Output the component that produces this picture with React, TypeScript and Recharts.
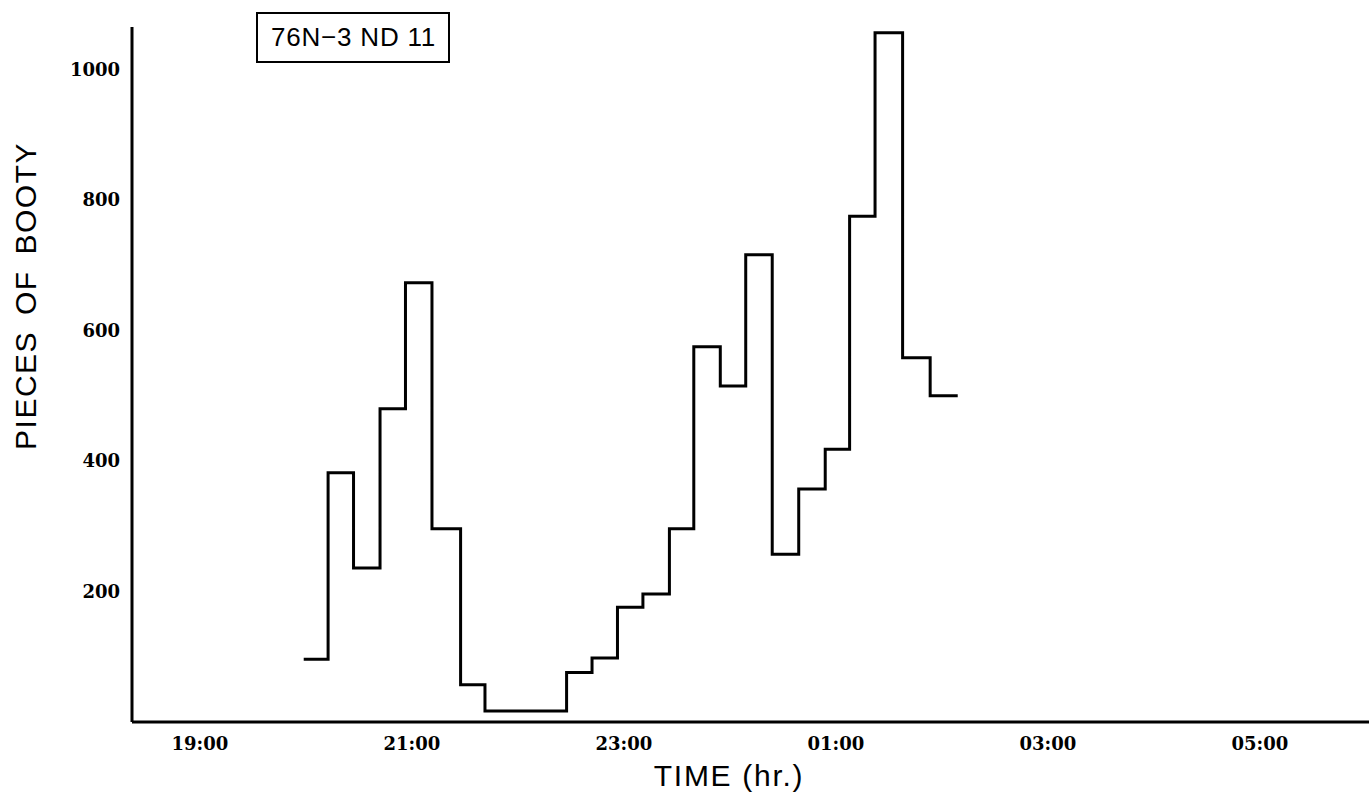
import { LineChart, Line, XAxis, YAxis } from "recharts";

// step edges, decimal hours (24+ = after midnight)
const stepTimes = [
  19.98, 20.21, 20.45, 20.7, 20.94, 21.19, 21.46, 21.69, 22.46, 22.7, 22.94, 23.18,
  23.43, 23.66, 23.91, 24.15, 24.4, 24.65, 24.9, 25.13, 25.37, 25.63, 25.89, 26.15,
];
// pieces of booty in each interval
const booty = [
  96, 382, 236, 480, 673, 296, 57, 17, 76, 98, 176, 196, 296, 575, 515, 716, 257, 357,
  418, 775, 1056, 558, 500,
];
const hourTicks = [19, 21, 23, 25, 27, 29];
const countTicks = [200, 400, 600, 800, 1000];

const chartData = stepTimes.map((t, i) => ({
  t,
  v: i < booty.length ? booty[i] : booty[booty.length - 1],
}));

const fmtHour = (h: number) => String(h % 24).padStart(2, "0") + ":00";

const tickFont = { fontFamily: "DejaVu Serif", fontWeight: 700, fontSize: 18, fill: "#000" };

export default function App() {
  return (
    <div style={{ position: "absolute", left: 0, top: 0, width: 1369, height: 796, background: "#fff" }}>
      <LineChart width={1369} height={796} data={chartData} margin={{ top: 27, right: 0, bottom: 0, left: 0 }}>
        <XAxis
          type="number"
          dataKey="t"
          domain={[18.36, 30.03]}
          ticks={hourTicks}
          tickFormatter={fmtHour}
          allowDataOverflow
          height={74}
          tickLine={false}
          tickMargin={9}
          axisLine={{ stroke: "#000", strokeWidth: 3 }}
          tick={tickFont}
        />
        <YAxis
          type="number"
          domain={[0, 1065]}
          ticks={countTicks}
          allowDataOverflow
          width={132}
          tickLine={false}
          tickMargin={6}
          axisLine={{ stroke: "#000", strokeWidth: 3 }}
          tick={tickFont}
        />
        <Line
          type="stepAfter"
          dataKey="v"
          stroke="#000"
          strokeWidth={3}
          dot={false}
          activeDot={false}
          isAnimationActive={false}
        />
      </LineChart>

      {/* sample id box */}
      <div
        style={{
          position: "absolute",
          left: 256,
          top: 12,
          width: 194,
          height: 51,
          border: "2px solid #000",
          boxSizing: "border-box",
          fontFamily: "Liberation Sans, Arial, sans-serif",
          fontSize: 26,
          letterSpacing: 0.8,
          lineHeight: "47px",
          paddingLeft: 13,
          whiteSpace: "nowrap",
        }}
      >
        76N−3 ND 11
      </div>

      <div
        style={{
          position: "absolute",
          left: 26,
          top: 296,
          transform: "translate(-50%, -50%) rotate(-90deg)",
          fontFamily: "Liberation Sans, Arial, sans-serif",
          fontSize: 30,
          letterSpacing: 1.5,
          wordSpacing: 6,
          whiteSpace: "nowrap",
        }}
      >
        PIECES OF BOOTY
      </div>

      <div
        style={{
          position: "absolute",
          left: 729,
          top: 776,
          transform: "translate(-50%, -50%)",
          fontFamily: "Liberation Sans, Arial, sans-serif",
          fontSize: 30,
          letterSpacing: 1.7,
          whiteSpace: "nowrap",
        }}
      >
        TIME (hr.)
      </div>
    </div>
  );
}
